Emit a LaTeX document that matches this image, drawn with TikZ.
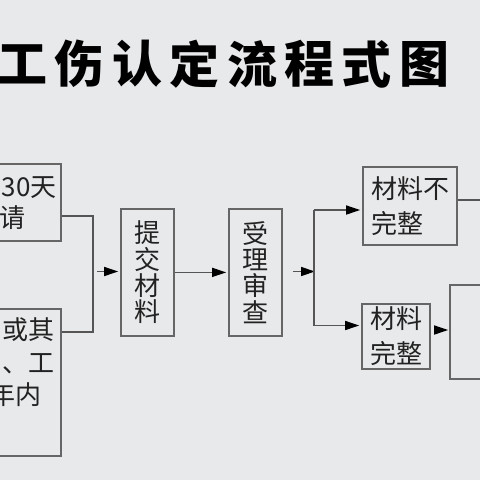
\documentclass[tikz,border=0pt]{standalone}
\usepackage{fontspec}
\newfontfamily\cjk{Noto Sans CJK SC}
\usetikzlibrary{arrows.meta}
\definecolor{bg}{HTML}{E8E9EB}
\definecolor{edge}{HTML}{666666}
\definecolor{wire}{HTML}{555555}
\definecolor{ink}{HTML}{222222}
\begin{document}
\begin{tikzpicture}[x=1pt,y=-1pt,
  box/.style={draw=edge,line width=1.6pt,inner sep=0pt,font=\cjk\fontsize{26}{26.2}\selectfont,text=ink,align=center},
  boxl/.style={box,align=left,font=\cjk\fontsize{26}{35}\selectfont},
  txt/.style={inner sep=0pt,font=\cjk\fontsize{26}{26}\selectfont,text=ink,anchor=base east},
  ttl/.style={inner sep=0pt,font=\cjk\bfseries\fontsize{50}{50}\selectfont,text=black},
  wireline/.style={draw=wire,line width=1.4pt},
  arr/.style={wireline,-{Triangle[length=14pt,width=9pt,color=black,fill=black]},shorten >=2pt}]
\fill[bg] (0,0) rectangle (480,480);
\useasboundingbox (0,0) rectangle (480,480);
\clip (0,0) rectangle (480,480);
% title
\foreach \c [count=\i] in {工,伤,认,定,流,程,式,图}
  \node[ttl] (t\i) at (22.5+57.4*\i-57.4,64) {\c};
% boxes
\node[box,minimum width=101pt,minimum height=77pt] (A) at (10.5,202.5) {};
\node[txt] (a1) at (57,196) {30天};
\node[txt] (a2) at (26,227) {请};
\node[box,minimum width=101pt,minimum height=147pt] (B) at (10.5,382.5) {};
\node[txt] (b1) at (55,339) {或其};
\node[txt] (b2) at (55,372) {、工};
\node[txt] (b3) at (42,404) {年内};
\node[box,minimum width=53pt,minimum height=127pt] (C) at (147.5,272.4) {提\\交\\材\\料};
\node[box,minimum width=53pt,minimum height=127pt] (D) at (255.5,272.4) {受\\理\\审\\查};
\node[boxl,minimum width=94pt,minimum height=78pt] (E) at (410,206) {材料不\\完整};
\node[boxl,minimum width=68pt,minimum height=65pt] (F) at (396,336.5) {材料\\完整};
\node[box,minimum width=80pt,minimum height=94pt] (G) at (490,332) {};
% connectors
\coordinate (ja) at (93,216);
\coordinate (jb) at (93,332);
\draw[wireline] (A.east |- ja) -- (ja) -- (jb) -- (B.east |- jb);
\coordinate (c0) at (97,271.5);
\draw[arr] (c0) -- (C.west |- c0);
\draw[arr] (C) -- (D);
\coordinate (d0) at (293,271.5);
\coordinate (br) at (316,271.5);
\draw[arr,shorten >=1pt] (d0) -- (br);
\coordinate (bt) at (314,210);
\coordinate (bb) at (314,325.5);
\draw[wireline] (bt) -- (bb);
\draw[arr] (bt) -- (E.west |- bt);
\draw[arr] (bb) -- (F.west |- bb);
\coordinate (eo) at (481,200);
\draw[wireline] (E.east |- eo) -- (eo);
\coordinate (f0) at (434,330);
\draw[arr,shorten >=1pt] (f0) -- (G.west |- f0);
\end{tikzpicture}
\end{document}
